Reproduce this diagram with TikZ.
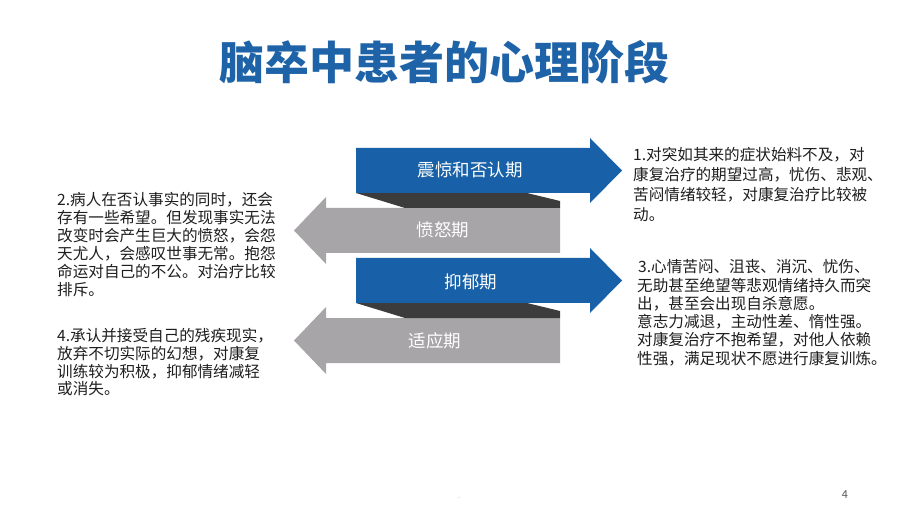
\documentclass[tikz,border=0pt]{standalone}
\usepackage{fontspec}
\setmainfont{Noto Sans CJK SC}
\XeTeXlinebreaklocale "zh"
\XeTeXlinebreakskip=0pt plus 4pt minus 0.8pt
\definecolor{arrowblue}{HTML}{1861A8}
\definecolor{titleblue}{HTML}{1E63A7}
\definecolor{arrowgray}{HTML}{A7A5A7}
\definecolor{shadowgray}{HTML}{3C3C3C}
\definecolor{bodytext}{HTML}{1E1E1E}
\newcommand{\jline}[2]{\makebox[#1pt][s]{#2}\\}
\begin{document}
\begin{tikzpicture}[x=1pt,y=-1pt,
  bluearrow/.style={fill=arrowblue},
  grayarrow/.style={fill=arrowgray},
  shadowband/.style={fill=shadowgray},
  arrowlabel/.style={text=white,inner sep=0pt,anchor=base,font=\fontsize{17.5}{20}\selectfont},
  bodyblock/.style={text=bodytext,inner sep=0pt,anchor=base west}]
\useasboundingbox (0,0) rectangle (920,518);
\fill[white] (0,0) rectangle (920,518);

% title
\node[text=titleblue,inner sep=0pt,anchor=base,font=\fontsize{45}{50}\selectfont\bfseries] (title) at (444,80) {脑卒中患者的心理阶段};

% pair 1
\fill[grayarrow] (560,208) -- (326,208) -- (326,197) -- (294,230.5) -- (326,264) -- (326,253) -- (560,253) -- cycle;
\fill[shadowband] (356,193) -- (527,193) -- (560,201) -- (560,208) -- (405,208) -- cycle;
\fill[bluearrow] (356,148) -- (590,148) -- (590,138) -- (622,170.5) -- (590,203) -- (590,193) -- (356,193) -- cycle;
% pair 2
\fill[grayarrow] (560,318) -- (326,318) -- (326,307) -- (294,340.5) -- (326,374) -- (326,363) -- (560,363) -- cycle;
\fill[shadowband] (356,303) -- (527,303) -- (560,311) -- (560,318) -- (405,318) -- cycle;
\fill[bluearrow] (356,258) -- (590,258) -- (590,248) -- (622,280.5) -- (590,313) -- (590,303) -- (356,303) -- cycle;

\node[arrowlabel] (s1) at (470,176.5) {震惊和否认期};
\node[arrowlabel] (s2) at (443,237) {愤怒期};
\node[arrowlabel] (s3) at (471,288.5) {抑郁期};
\node[arrowlabel] (s4) at (435,347) {适应期};

% left texts
\node[bodyblock] (t2) at (57,206) {\parbox[t]{240pt}{\fontsize{15.6}{18}\selectfont
\jline{218}{2.病人在否认事实的同时，还会}
\jline{218}{存有一些希望。但发现事实无法}
\jline{216}{改变时会产生巨大的愤怒，会怨}
\jline{216}{天尤人，会感叹世事无常。抱怨}
\jline{217}{命运对自己的不公。对治疗比较}
排斥。}};
\node[bodyblock] (t4) at (57,341) {\parbox[t]{240pt}{\fontsize{15.6}{18}\selectfont
\jline{216}{4.承认并接受自己的残疾现实，}
\jline{206}{放弃不切实际的幻想，对康复}
\jline{207}{训练较为积极，抑郁情绪减轻}
或消失。}};

% right texts
\node[bodyblock] (t1) at (633,161) {\parbox[t]{260pt}{\fontsize{15.6}{19.7}\selectfont
\jline{239}{1.对突如其来的症状始料不及，对}
\jline{242}{康复治疗的期望过高，忧伤、悲观、}
\jline{240}{苦闷情绪较轻，对康复治疗比较被}
动。}};
\node[bodyblock] (t3) at (637,273) {\parbox[t]{260pt}{\fontsize{15.6}{18.2}\selectfont
\hspace*{1pt}3.心情苦闷、沮丧、消沉、忧伤、\\
\jline{238}{无助甚至绝望等悲观情绪持久而突}
出，甚至会出现自杀意愿。\\
\jline{236}{意志力减退，主动性差、惰性强。}
\jline{237}{对康复治疗不抱希望，对他人依赖}
\jline{238}{性强，满足现状不愿进行康复训炼。}}};

% footer
\node[text=black!65,inner sep=0pt,anchor=base,font=\fontsize{11}{12}\selectfont] (pnum) at (845,498) {4};
\node[text=black!50,inner sep=0pt,anchor=base,font=\fontsize{7}{8}\selectfont] (dot) at (459,498) {.};
\end{tikzpicture}
\end{document}
